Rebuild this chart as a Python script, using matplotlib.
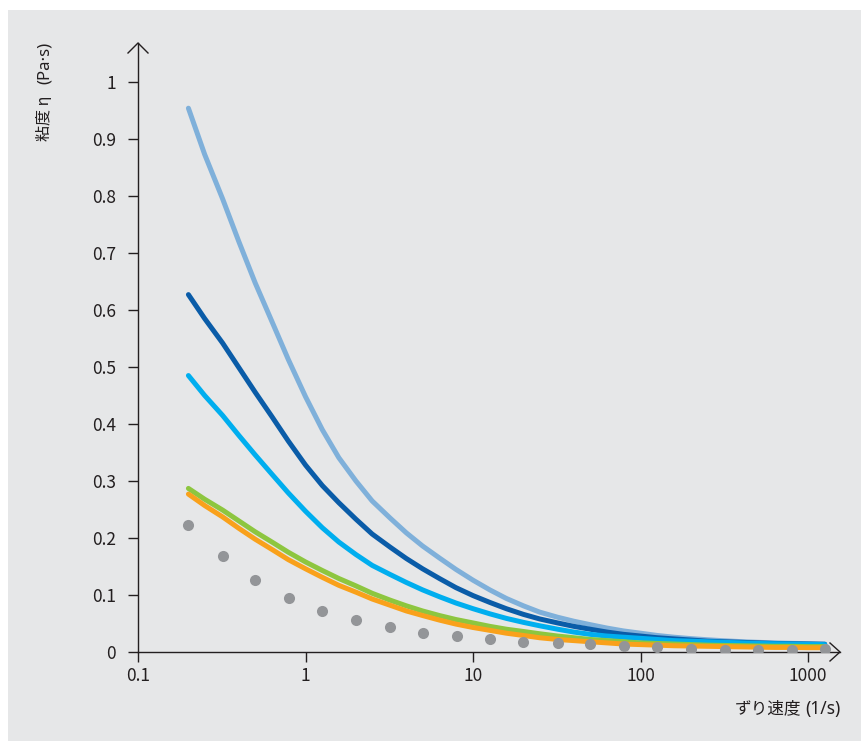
import matplotlib
matplotlib.use("Agg")
import matplotlib.pyplot as plt
from matplotlib.patches import Rectangle
from matplotlib.lines import Line2D
from matplotlib.ticker import FixedLocator, FixedFormatter, NullLocator

plt.rcParams['font.family'] = ['Noto Sans CJK JP', 'DejaVu Sans']

# ---- data ----
shear_rate = [0.2, 0.25, 0.32, 0.4, 0.5, 0.63, 0.79, 1, 1.26, 1.58, 2, 2.5, 3.2, 4, 5, 6.3, 7.9,
              10, 12.6, 15.8, 20, 25, 32, 40, 50, 63, 79, 100, 126, 158, 200, 251, 316, 398,
              501, 631, 794, 1000, 1259]
light_blue = [0.954, 0.873, 0.795, 0.720, 0.648, 0.580, 0.513, 0.448, 0.390, 0.341, 0.300,
              0.265, 0.235, 0.209, 0.186, 0.165, 0.145, 0.126, 0.109, 0.094, 0.081, 0.070,
              0.061, 0.054, 0.048, 0.042, 0.037, 0.033, 0.029, 0.026, 0.0235, 0.0215, 0.0197,
              0.0182, 0.017, 0.016, 0.0152, 0.0146, 0.0141]
dark_blue = [0.627, 0.585, 0.542, 0.499, 0.456, 0.413, 0.370, 0.328, 0.292, 0.262, 0.233,
             0.207, 0.184, 0.164, 0.146, 0.129, 0.113, 0.099, 0.087, 0.076, 0.066, 0.058,
             0.051, 0.045, 0.040, 0.035, 0.031, 0.028, 0.025, 0.023, 0.021, 0.019, 0.018,
             0.017, 0.016, 0.015, 0.0145, 0.014, 0.0135]
cyan = [0.485, 0.450, 0.415, 0.380, 0.346, 0.312, 0.279, 0.247, 0.218, 0.193, 0.171, 0.152,
        0.136, 0.122, 0.109, 0.097, 0.086, 0.076, 0.067, 0.059, 0.052, 0.046, 0.040, 0.035,
        0.031, 0.028, 0.026, 0.024, 0.022, 0.020, 0.019, 0.018, 0.017, 0.016, 0.015, 0.0145,
        0.014, 0.0135, 0.013]
green = [0.287, 0.268, 0.249, 0.230, 0.211, 0.193, 0.175, 0.158, 0.143, 0.129, 0.116, 0.103,
         0.091, 0.081, 0.072, 0.064, 0.057, 0.051, 0.045, 0.040, 0.036, 0.032, 0.028, 0.025,
         0.022, 0.020, 0.018, 0.016, 0.015, 0.014, 0.013, 0.012, 0.0115, 0.011, 0.0105,
         0.010, 0.010, 0.0095, 0.0095]
orange = [0.277, 0.257, 0.237, 0.217, 0.198, 0.180, 0.162, 0.146, 0.131, 0.117, 0.105, 0.093,
          0.082, 0.072, 0.064, 0.056, 0.049, 0.043, 0.038, 0.033, 0.029, 0.025, 0.022, 0.020,
          0.018, 0.016, 0.014, 0.013, 0.012, 0.011, 0.0105, 0.010, 0.0095, 0.009, 0.0085,
          0.008, 0.008, 0.0075, 0.0075]
dots_x = [0.2, 0.32, 0.5, 0.8, 1.26, 2, 3.2, 5, 8, 12.6, 20, 32, 50, 80, 126, 200, 320, 500, 800, 1260]
dots_y = [0.222, 0.168, 0.126, 0.094, 0.072, 0.056, 0.044, 0.034, 0.028, 0.023, 0.018, 0.016,
          0.0135, 0.011, 0.009, 0.005, 0.004, 0.004, 0.004, 0.005]

x_ticks = [0.1, 1, 10, 100, 1000]
x_tick_labels = ["0.1", "1", "10", "100", "1000"]
y_ticks = [0, 0.1, 0.2, 0.3, 0.4, 0.5, 0.6, 0.7, 0.8, 0.9, 1]
y_tick_labels = ["0", "0.1", "0.2", "0.3", "0.4", "0.5", "0.6", "0.7", "0.8", "0.9", "1"]

series = [
    (light_blue, '#7fb0da'),
    (dark_blue, '#0a5ca8'),
    (cyan, '#00aeef'),
    (green, '#8dc63f'),
    (orange, '#f9a11b'),
]

# ---- figure ----
W, H = 862, 741
fig = plt.figure(figsize=(W / 100, H / 100), dpi=100)
fig.patch.set_facecolor('white')
fig.add_artist(Rectangle((8 / W, 0), 1 - 8 / W, 1 - 10 / H, transform=fig.transFigure,
                         facecolor='#e6e7e8', edgecolor='none', zorder=-10))

left_px, right_px, top_px, bottom_px = 138, 840, 43, 652
ax = fig.add_axes([left_px / W, (H - bottom_px) / H, (right_px - left_px) / W, (bottom_px - top_px) / H])
ax.set_facecolor('none')
ax.set_xscale('log')
ax.set_xlim(0.1, 10 ** ((right_px - left_px) / 167.5 - 1))
ax.set_ylim(0, (bottom_px - top_px) / 570)

axis_color = '#231f20'
for s in ['top', 'right']:
    ax.spines[s].set_visible(False)
for s in ['left', 'bottom']:
    ax.spines[s].set_color(axis_color)
    ax.spines[s].set_linewidth(1.0)

ax.xaxis.set_major_locator(FixedLocator(x_ticks))
ax.xaxis.set_major_formatter(FixedFormatter(x_tick_labels))
ax.xaxis.set_minor_locator(NullLocator())
ax.yaxis.set_major_locator(FixedLocator(y_ticks))
ax.yaxis.set_major_formatter(FixedFormatter(y_tick_labels))
ax.tick_params(axis='both', direction='out', length=7, width=1.0, color=axis_color,
               labelcolor=axis_color, labelsize=12.5)
ax.tick_params(axis='x', pad=4)
ax.tick_params(axis='y', pad=9)

for vals, col in series:
    ax.plot(shear_rate, vals, color=col, lw=3.6, solid_capstyle='round', solid_joinstyle='round', zorder=3)

ax.plot(dots_x, dots_y, 'o', color='#939598', ms=8, mec='none', zorder=4)

# arrow heads
def fl(px, py):
    return (px / W, (H - py) / H)

for pts in ([(830, 643), (840, 652), (830, 661)], [(128, 53), (138, 43), (148, 53)]):
    xs = [fl(*p)[0] for p in pts]
    ys = [fl(*p)[1] for p in pts]
    fig.add_artist(Line2D(xs, ys, transform=fig.transFigure, color=axis_color, lw=1.0))

# axis labels
fig.text(841 / W, 1 - 709 / H, "(1/s)", ha='right', va='center', fontsize=12.5,
         color=axis_color, family=['Noto Sans', 'DejaVu Sans'])
fig.text(801 / W, 1 - 709 / H, "ずり速度", ha='right', va='center', fontsize=12, color=axis_color)
fig.text(45 / W, 1 - 42 / H, "(Pa·s)", ha='center', va='top', rotation=90, fontsize=12,
         color=axis_color, family=['Noto Sans', 'DejaVu Sans'])
fig.text(45 / W, 1 - 141 / H, "粘度 η", ha='center', va='bottom', rotation=90, fontsize=11.5,
         color=axis_color, family=['Noto Sans CJK JP', 'DejaVu Sans'])

fig.savefig("out.png", dpi=100)
